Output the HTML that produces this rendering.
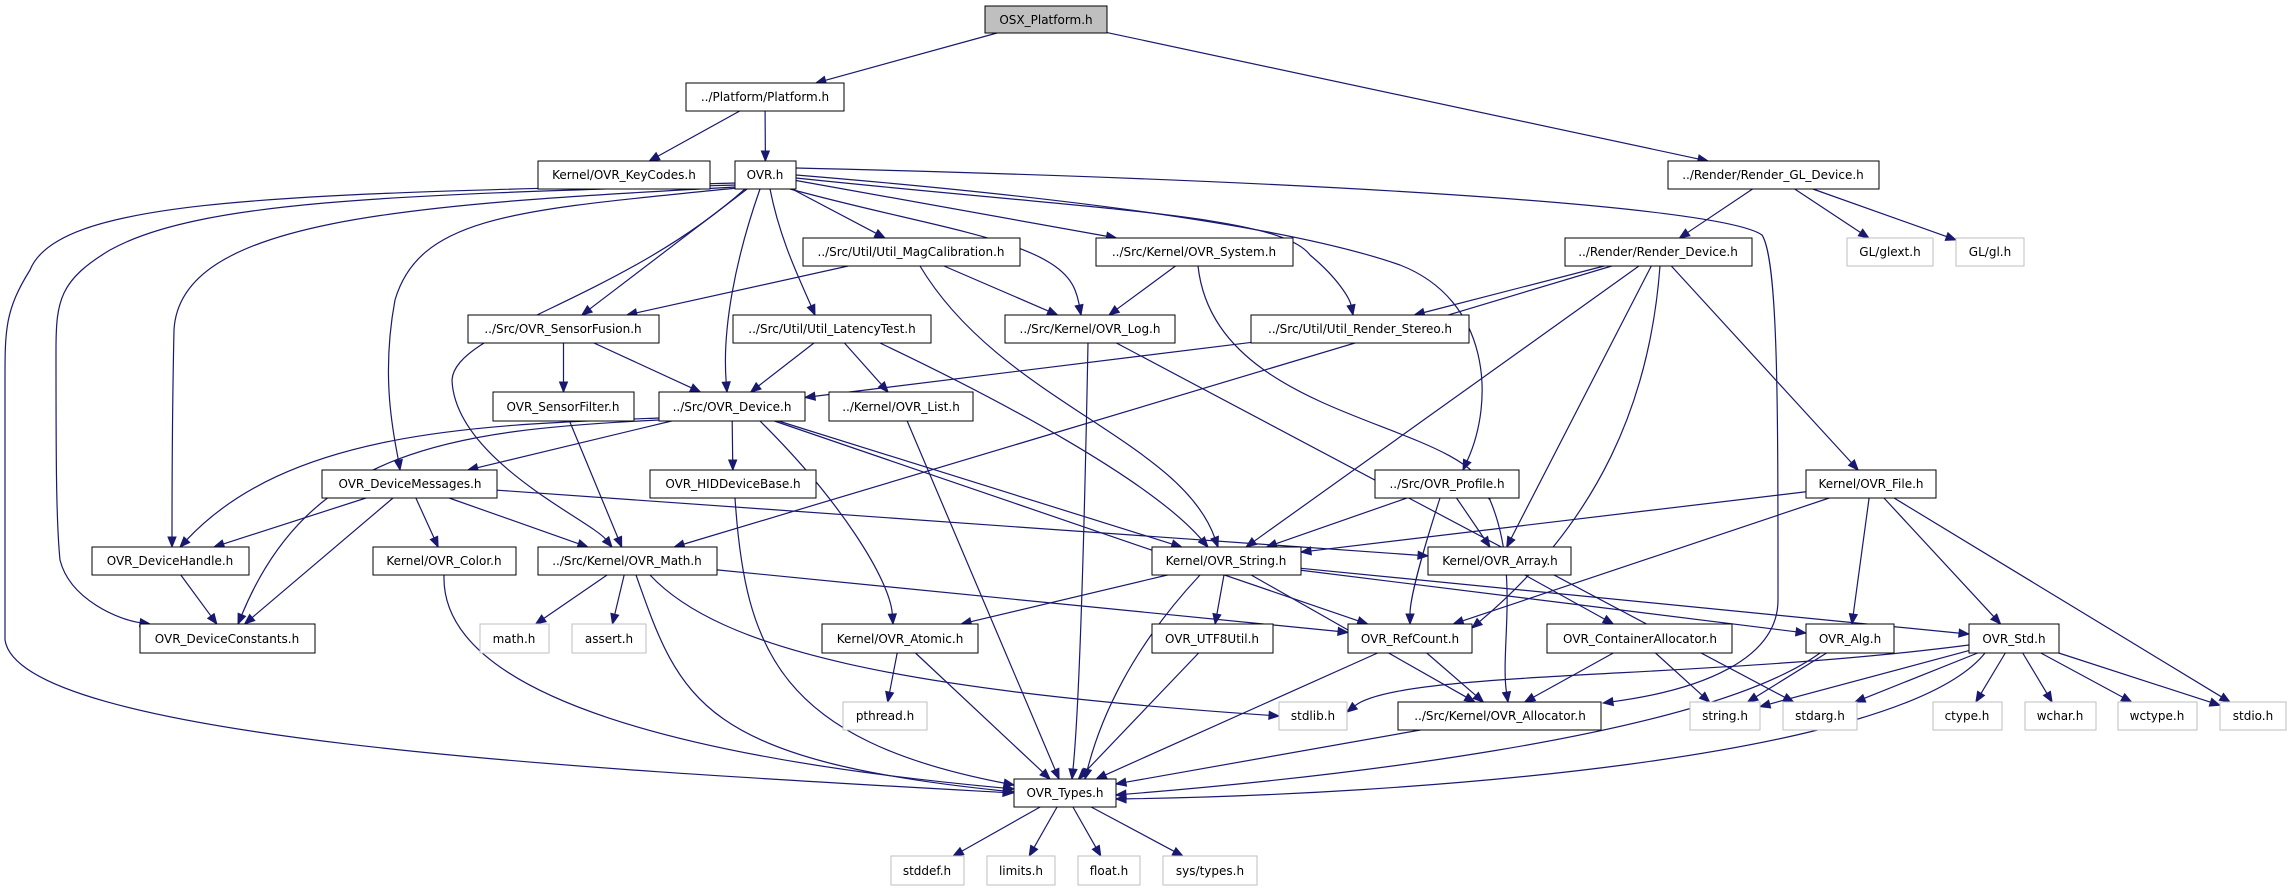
<!DOCTYPE html>
<html><head><meta charset="utf-8"><style>
html,body{margin:0;padding:0;background:#fff;}
svg{display:block;}
text{font-family:"DejaVu Sans","Liberation Sans",sans-serif;font-size:12px;fill:#000;}
</style></head><body>
<svg id="g" width="2291" height="891" viewBox="0 0 2291 891" xmlns="http://www.w3.org/2000/svg">
<g id="edges" fill="none" stroke="#191970" stroke-width="1.2"></g>
<g id="heads" fill="#191970" stroke="#191970"></g>
<g id="nodes" text-anchor="middle">
<rect x="985" y="6" width="122" height="27" fill="#bfbfbf" stroke="#000"/><text x="1046" y="24">OSX_Platform.h</text>
<rect x="686" y="83" width="158" height="28" fill="#fff" stroke="#000"/><text x="765" y="101">../Platform/Platform.h</text>
<rect x="538" y="161" width="172" height="28" fill="#fff" stroke="#000"/><text x="624" y="179">Kernel/OVR_KeyCodes.h</text>
<rect x="735" y="161" width="61" height="28" fill="#fff" stroke="#000"/><text x="765" y="179">OVR.h</text>
<rect x="1668" y="161" width="211" height="28" fill="#fff" stroke="#000"/><text x="1773" y="179">../Render/Render_GL_Device.h</text>
<rect x="803" y="238" width="217" height="28" fill="#fff" stroke="#000"/><text x="911" y="256">../Src/Util/Util_MagCalibration.h</text>
<rect x="1096" y="238" width="197" height="28" fill="#fff" stroke="#000"/><text x="1194" y="256">../Src/Kernel/OVR_System.h</text>
<rect x="1565" y="238" width="187" height="28" fill="#fff" stroke="#000"/><text x="1658" y="256">../Render/Render_Device.h</text>
<rect x="1847" y="238" width="86" height="28" fill="#fff" stroke="#bfbfbf"/><text x="1890" y="256">GL/glext.h</text>
<rect x="1956" y="238" width="68" height="28" fill="#fff" stroke="#bfbfbf"/><text x="1990" y="256">GL/gl.h</text>
<rect x="468" y="315" width="191" height="28" fill="#fff" stroke="#000"/><text x="563" y="333">../Src/OVR_SensorFusion.h</text>
<rect x="733" y="315" width="198" height="28" fill="#fff" stroke="#000"/><text x="832" y="333">../Src/Util/Util_LatencyTest.h</text>
<rect x="1005" y="315" width="170" height="28" fill="#fff" stroke="#000"/><text x="1090" y="333">../Src/Kernel/OVR_Log.h</text>
<rect x="1251" y="315" width="218" height="28" fill="#fff" stroke="#000"/><text x="1360" y="333">../Src/Util/Util_Render_Stereo.h</text>
<rect x="493" y="392" width="141" height="29" fill="#fff" stroke="#000"/><text x="563" y="411">OVR_SensorFilter.h</text>
<rect x="659" y="392" width="146" height="29" fill="#fff" stroke="#000"/><text x="732" y="411">../Src/OVR_Device.h</text>
<rect x="829" y="392" width="144" height="29" fill="#fff" stroke="#000"/><text x="901" y="411">../Kernel/OVR_List.h</text>
<rect x="322" y="470" width="175" height="28" fill="#fff" stroke="#000"/><text x="410" y="488">OVR_DeviceMessages.h</text>
<rect x="650" y="470" width="166" height="28" fill="#fff" stroke="#000"/><text x="733" y="488">OVR_HIDDeviceBase.h</text>
<rect x="1375" y="470" width="144" height="28" fill="#fff" stroke="#000"/><text x="1447" y="488">../Src/OVR_Profile.h</text>
<rect x="1806" y="470" width="130" height="28" fill="#fff" stroke="#000"/><text x="1871" y="488">Kernel/OVR_File.h</text>
<rect x="92" y="547" width="157" height="28" fill="#fff" stroke="#000"/><text x="170" y="565">OVR_DeviceHandle.h</text>
<rect x="373" y="547" width="143" height="28" fill="#fff" stroke="#000"/><text x="444" y="565">Kernel/OVR_Color.h</text>
<rect x="538" y="547" width="179" height="28" fill="#fff" stroke="#000"/><text x="627" y="565">../Src/Kernel/OVR_Math.h</text>
<rect x="1152" y="547" width="149" height="28" fill="#fff" stroke="#000"/><text x="1226" y="565">Kernel/OVR_String.h</text>
<rect x="1428" y="547" width="143" height="28" fill="#fff" stroke="#000"/><text x="1500" y="565">Kernel/OVR_Array.h</text>
<rect x="140" y="624" width="175" height="29" fill="#fff" stroke="#000"/><text x="227" y="643">OVR_DeviceConstants.h</text>
<rect x="480" y="624" width="69" height="29" fill="#fff" stroke="#bfbfbf"/><text x="514" y="643">math.h</text>
<rect x="572" y="624" width="74" height="29" fill="#fff" stroke="#bfbfbf"/><text x="609" y="643">assert.h</text>
<rect x="822" y="624" width="156" height="29" fill="#fff" stroke="#000"/><text x="900" y="643">Kernel/OVR_Atomic.h</text>
<rect x="1152" y="624" width="121" height="29" fill="#fff" stroke="#000"/><text x="1212" y="643">OVR_UTF8Util.h</text>
<rect x="1348" y="624" width="124" height="29" fill="#fff" stroke="#000"/><text x="1410" y="643">OVR_RefCount.h</text>
<rect x="1547" y="624" width="185" height="29" fill="#fff" stroke="#000"/><text x="1640" y="643">OVR_ContainerAllocator.h</text>
<rect x="1806" y="624" width="88" height="29" fill="#fff" stroke="#000"/><text x="1850" y="643">OVR_Alg.h</text>
<rect x="1969" y="624" width="90" height="29" fill="#fff" stroke="#000"/><text x="2014" y="643">OVR_Std.h</text>
<rect x="843" y="702" width="84" height="28" fill="#fff" stroke="#bfbfbf"/><text x="885" y="720">pthread.h</text>
<rect x="1279" y="702" width="68" height="28" fill="#fff" stroke="#bfbfbf"/><text x="1313" y="720">stdlib.h</text>
<rect x="1398" y="702" width="203" height="28" fill="#fff" stroke="#000"/><text x="1500" y="720">../Src/Kernel/OVR_Allocator.h</text>
<rect x="1690" y="702" width="70" height="28" fill="#fff" stroke="#bfbfbf"/><text x="1725" y="720">string.h</text>
<rect x="1783" y="702" width="74" height="28" fill="#fff" stroke="#bfbfbf"/><text x="1820" y="720">stdarg.h</text>
<rect x="1933" y="702" width="69" height="28" fill="#fff" stroke="#bfbfbf"/><text x="1967" y="720">ctype.h</text>
<rect x="2025" y="702" width="71" height="28" fill="#fff" stroke="#bfbfbf"/><text x="2060" y="720">wchar.h</text>
<rect x="2118" y="702" width="79" height="28" fill="#fff" stroke="#bfbfbf"/><text x="2157" y="720">wctype.h</text>
<rect x="2220" y="702" width="66" height="28" fill="#fff" stroke="#bfbfbf"/><text x="2253" y="720">stdio.h</text>
<rect x="1014" y="779" width="102" height="28" fill="#fff" stroke="#000"/><text x="1065" y="797">OVR_Types.h</text>
<rect x="891" y="856" width="73" height="29" fill="#fff" stroke="#bfbfbf"/><text x="927" y="875">stddef.h</text>
<rect x="987" y="856" width="68" height="29" fill="#fff" stroke="#bfbfbf"/><text x="1021" y="875">limits.h</text>
<rect x="1078" y="856" width="62" height="29" fill="#fff" stroke="#bfbfbf"/><text x="1109" y="875">float.h</text>
<rect x="1163" y="856" width="94" height="29" fill="#fff" stroke="#bfbfbf"/><text x="1210" y="875">sys/types.h</text>
</g>
</svg>
<script>
var N={OSX:[985,6,1107,33],Plat:[686,83,844,111],Key:[538,161,710,189],OVR:[735,161,796,189],RGL:[1668,161,1879,189],
Mag:[803,238,1020,266],Sys:[1096,238,1293,266],RD:[1565,238,1752,266],glext:[1847,238,1933,266],gl:[1956,238,2024,266],
SF:[468,315,659,343],Lat:[733,315,931,343],Log:[1005,315,1175,343],Ste:[1251,315,1469,343],
Filt:[493,392,634,421],Dev:[659,392,805,421],List:[829,392,973,421],
Msg:[322,470,497,498],HID:[650,470,816,498],Prof:[1375,470,1519,498],File:[1806,470,1936,498],
Hand:[92,547,249,575],Col:[373,547,516,575],Math:[538,547,717,575],Str:[1152,547,1301,575],Arr:[1428,547,1571,575],
Const:[140,624,315,653],mathh:[480,624,549,653],assert:[572,624,646,653],Atom:[822,624,978,653],UTF:[1152,624,1273,653],
Ref:[1348,624,1472,653],CA:[1547,624,1732,653],Alg:[1806,624,1894,653],Std:[1969,624,2059,653],
pth:[843,702,927,730],stdlib:[1279,702,1347,730],Alloc:[1398,702,1601,730],string:[1690,702,1760,730],stdarg:[1783,702,1857,730],
ctype:[1933,702,2002,730],wchar:[2025,702,2096,730],wctype:[2118,702,2197,730],stdio:[2220,702,2286,730],
Types:[1014,779,1116,807],stddef:[891,856,964,885],limits:[987,856,1055,885],float:[1078,856,1140,885],systypes:[1163,856,1257,885]};
var S=[["OSX","Plat"],["OSX","RGL"],["Plat","Key"],["Plat","OVR"],["OVR","Mag"],["OVR","Sys"],["OVR","SF"],
["RGL","RD"],["RGL","glext"],["RGL","gl"],["RD","Ste"],["RD","Str"],["RD","Math"],["RD","Arr"],["RD","File"],
["Mag","SF"],["Mag","Log"],["Sys","Log"],["SF","Filt"],["SF","Dev"],["Lat","Dev"],["Lat","List"],["Ste","Dev"],
["Log","stdarg"],["Dev","Msg"],["Dev","HID"],["Dev","Str"],["Dev","Ref"],["List","Types"],
["Msg","Hand"],["Msg","Const"],["Msg","Col"],["Msg","Math"],["Msg","Arr"],["Filt","Math"],
["Prof","Str"],["Prof","Arr"],["File","Str"],["File","Ref"],["File","Alg"],["File","Std"],["File","stdio"],
["Hand","Const"],["Math","mathh"],["Math","assert"],["Math","Ref"],["Str","Atom"],["Str","UTF"],["Str","Alloc"],["Str","Alg"],["Str","Std"],
["Arr","CA"],["Atom","pth"],["Atom","Types"],["UTF","Types"],["Ref","Types"],["Ref","Alloc"],["CA","Alloc"],["CA","string"],
["Alg","string"],["Std","string"],["Std","stdarg"],["Std","ctype"],["Std","wchar"],["Std","wctype"],["Std","stdio"],
["Alloc","Types"],["Types","stddef"],["Types","limits"],["Types","float"],["Types","systypes"]];
var C=[
[736,183, 300,195, 60,195, 30,270],[30,270, 5,310, 5,330, 5,380],[5,380, 5,520, 5,600, 5,640],[5,640, 20,740, 600,770, 1013,793],
[736,185, 400,195, 200,200, 110,250],[110,250, 60,280, 56,300, 56,350],[56,350, 56,450, 56,520, 60,560],[60,560, 70,600, 120,620, 150,624],
[736,187, 400,205, 180,220, 174,330],[174,330, 172,420, 172,500, 172,547],
[737,188, 520,210, 420,215, 395,300],[395,300, 380,380, 395,440, 400,470],
[745,189, 620,300, 455,330, 452,380],[452,380, 455,460, 590,520, 612,547],
[760,189, 735,260, 722,330, 727,392],
[770,189, 780,240, 800,280, 815,315],
[790,189, 940,230, 1055,240, 1075,290],[1075,290, 1079,300, 1080,310, 1081,315],
[796,168, 1300,180, 1720,205, 1762,235],[1762,235, 1778,260, 1778,400, 1778,600],[1778,600, 1778,660, 1700,690, 1603,703],
[796,175, 1100,200, 1300,230, 1400,265],[1400,265, 1490,300, 1495,400, 1463,470],
[796,178, 1100,210, 1280,215, 1310,255],[1310,255, 1340,280, 1350,300, 1353,315],
[1088,343, 1085,500, 1080,700, 1072,779],
[920,266, 1000,400, 1180,440, 1218,547],
[880,343, 1000,400, 1150,480, 1208,547],
[1198,266, 1215,420, 1460,420, 1490,500],[1490,500, 1520,570, 1500,650, 1508,702],
[1660,266, 1650,400, 1600,520, 1472,628],
[1440,498, 1420,560, 1410,600, 1410,624],
[659,418, 480,425, 290,430, 180,547],
[659,420, 450,430, 310,450, 238,624],
[760,421, 840,500, 890,580, 893,624],
[735,498, 745,650, 780,740, 1014,785],
[444,575, 440,700, 700,760, 1014,789],
[636,575, 680,700, 700,760, 1014,792],
[650,575, 720,650, 900,690, 1279,716],
[1200,575, 1130,650, 1100,720, 1085,779],
[1820,653, 1700,740, 1300,780, 1116,795],
[1985,653, 1900,760, 1400,795, 1116,799],
[1969,645, 1700,680, 1400,670, 1347,712]
];
var ns="http://www.w3.org/2000/svg",E=document.getElementById("edges"),H=document.getElementById("heads");
function clip(b,tx,ty){var cx=(b[0]+b[2])/2,cy=(b[1]+b[3])/2,dx=tx-cx,dy=ty-cy,hw=(b[2]-b[0])/2,hh=(b[3]-b[1])/2;
var s=Math.min(dx?hw/Math.abs(dx):1e9,dy?hh/Math.abs(dy):1e9);return [cx+dx*s,cy+dy*s];}
function head(px,py,ex,ey){var dx=ex-px,dy=ey-py,l=Math.hypot(dx,dy);dx/=l;dy/=l;var L=10,W=4;
var bx=ex-dx*L,by=ey-dy*L;var p=document.createElementNS(ns,"polygon");
p.setAttribute("points",ex+","+ey+" "+(bx-dy*W)+","+(by+dx*W)+" "+(bx+dy*W)+","+(by-dx*W));H.appendChild(p);return [bx,by];}
function path(d){var p=document.createElementNS(ns,"path");p.setAttribute("d",d);E.appendChild(p);}
S.forEach(function(e){var a=N[e[0]],b=N[e[1]];var ac=[(a[0]+a[2])/2,(a[1]+a[3])/2],bc=[(b[0]+b[2])/2,(b[1]+b[3])/2];
var s=clip(a,bc[0],bc[1]),t=clip(b,ac[0],ac[1]);var q=head(s[0],s[1],t[0],t[1]);path("M"+s[0]+","+s[1]+"L"+q[0]+","+q[1]);});
var groups=[[0,1,2,3],[4,5,6,7],[8,9],[10,11],[12,13],[14],[15],[16,17],[18,19,20],[21,22],[23,24]];
for(var i=25;i<C.length;i++)groups.push([i]);
groups.forEach(function(g){var d="";g.forEach(function(k,j){var c=C[k].slice();
if(j==g.length-1){var q=head(c[4],c[5],c[6],c[7]);c[6]=q[0];c[7]=q[1];}
if(j==0)d+="M"+c[0]+","+c[1];d+="C"+c[2]+","+c[3]+" "+c[4]+","+c[5]+" "+c[6]+","+c[7];});path(d);});
</script>
</body></html>
